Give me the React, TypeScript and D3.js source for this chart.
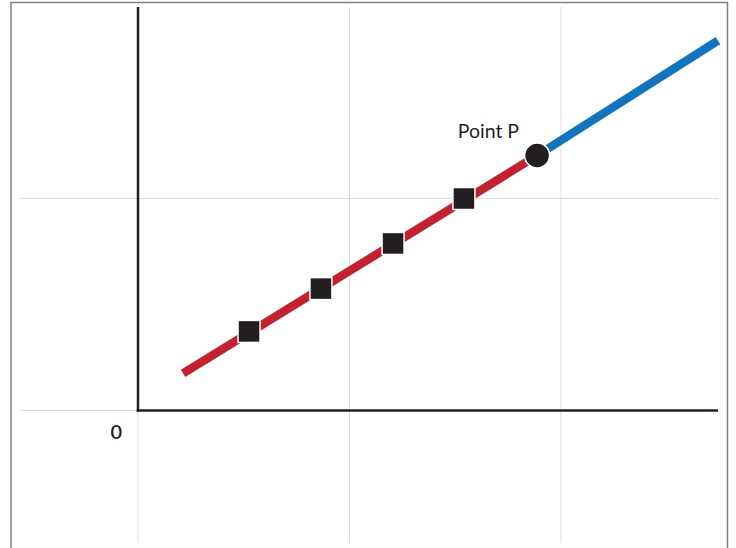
import React from "react";
import * as d3 from "d3";

const gridXValues = [0, 1, 2];
const gridYValues = [0, 1];
const redSegmentX = [0.213, 1.887];
const redSegmentY = [0.175, 1.203];
const blueSegmentX = [1.887, 2.742];
const blueSegmentY = [1.203, 1.745];
const squareX = [0.525, 0.865, 1.206, 1.541];
const squareY = [0.373, 0.575, 0.788, 1.0];
const pointPX = [1.887];
const pointPY = [1.203];
const pointLabel = "Point P";
const zeroLabel = "0";

const W = 736;
const H = 548;

export default function App() {
  const x = d3.scaleLinear().domain([0, 1]).range([138, 349.5]);
  const y = d3.scaleLinear().domain([0, 1]).range([410.5, 198.5]);
  const xMin = x.invert(20);
  const xMax = x.invert(718);
  const yTop = y.invert(7);
  const yBottom = y.invert(543);

  const line = d3
    .line<[number, number]>()
    .x((d) => x(d[0]))
    .y((d) => y(d[1]));

  const red: [number, number][] = redSegmentX.map((v, i) => [v, redSegmentY[i]]);
  const blue: [number, number][] = blueSegmentX.map((v, i) => [v, blueSegmentY[i]]);
  const dark = "#231f20";
  const sq = 22;

  return (
    <svg
      width={W}
      height={H}
      style={{ position: "absolute", left: 0, top: 0, background: "#fff" }}
      fontFamily="Lato, 'Noto Sans', sans-serif"
    >
      <rect x={0} y={0} width={W} height={H} fill="#fff" />
      {/* frame */}
      <path d={`M11,${H + 2} V2.5 H727.5 V${H + 2}`} fill="none" stroke="#808080" strokeWidth={1.5} />
      {/* grid */}
      {gridXValues.map((g) => (
        <line
          key={"gx" + g}
          x1={x(g)}
          x2={x(g)}
          y1={g === 0 ? y(0) : y(yTop)}
          y2={y(yBottom)}
          stroke="#dddddd"
          strokeWidth={1}
        />
      ))}
      {gridYValues.map((g) => (
        <line
          key={"gy" + g}
          x1={x(xMin)}
          x2={x(xMax)}
          y1={y(g)}
          y2={y(g)}
          stroke="#dddddd"
          strokeWidth={1}
        />
      ))}
      {/* axes */}
      <line x1={x(0)} x2={x(0)} y1={y(yTop)} y2={y(0) + 1.25} stroke={dark} strokeWidth={2.5} />
      <line x1={x(0) - 1.25} x2={x(xMax)} y1={y(0)} y2={y(0)} stroke={dark} strokeWidth={2.5} />
      {/* lines */}
      <path d={line(red) || ""} fill="none" stroke="#c4202f" strokeWidth={8.5} />
      <path d={line(blue) || ""} fill="none" stroke="#1174bf" strokeWidth={8.5} />
      {/* squares */}
      {squareX.map((v, i) => (
        <rect
          key={"s" + i}
          x={x(v) - sq / 2}
          y={y(squareY[i]) - sq / 2}
          width={sq}
          height={sq}
          fill={dark}
          stroke="#fff"
          strokeWidth={1.5}
        />
      ))}
      {/* point P */}
      {pointPX.map((v, i) => (
        <circle key={"p" + i} cx={x(v)} cy={y(pointPY[i])} r={12.5} fill={dark} stroke="#fff" strokeWidth={1.5} />
      ))}
      <text x={x(pointPX[0]) - 18} y={y(pointPY[0]) - 17} fontSize={19.5} fill={dark} textAnchor="end">
        {pointLabel}
      </text>
      <text x={x(0) - 16} y={y(0) + 28} fontSize={20} fontWeight={600} fill={dark} textAnchor="end">
        {zeroLabel}
      </text>
    </svg>
  );
}
